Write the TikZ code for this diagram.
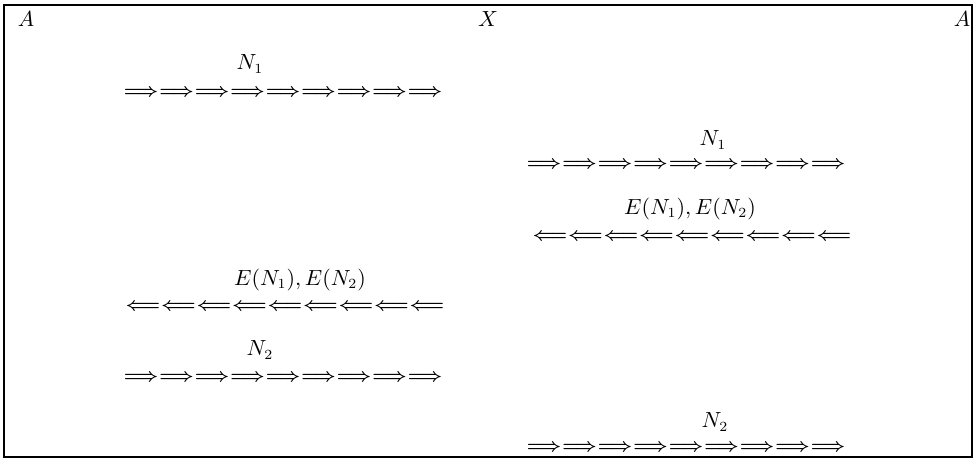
\documentclass[tikz,border=0pt]{standalone}
\newcommand\g{\mskip1mu}
\newcommand\myR{$\Longrightarrow\g\Longrightarrow\g\Longrightarrow\g\Longrightarrow\g\Longrightarrow\g\Longrightarrow\g\Longrightarrow\g\Longrightarrow\g\Longrightarrow$}
\newcommand\myL{$\Longleftarrow\g\Longleftarrow\g\Longleftarrow\g\Longleftarrow\g\Longleftarrow\g\Longleftarrow\g\Longleftarrow\g\Longleftarrow\g\Longleftarrow$}
\begin{document}
\begin{tikzpicture}[x=0.5pt,y=-0.5pt,
  lab/.style={inner sep=0pt,font=\fontsize{10.5}{12}\selectfont},
  arrs/.style={inner sep=0pt,font=\fontsize{9.0}{12}\selectfont\boldmath}]
\useasboundingbox (0,0) rectangle (978,459);
\draw[line width=0.75pt] (4,5) rectangle (972,457);
\node[lab] (A1) at (26,19) {$A$};
\node[lab] (X) at (488,19) {$X$};
\node[lab] (A2) at (962,19) {$A$};
% left column
\node[lab] (n1a) at (250,64) {$N_1$};
\node[arrs] (r1) at (283,93) {\myR};
\node[lab] (e1) at (300,280) {$E(N_1), E(N_2)$};
\node[arrs] (l1) at (285,307) {\myL};
\node[lab] (n2a) at (260,350) {$N_2$};
\node[arrs] (r2) at (283,378) {\myR};
% right column
\node[lab] (n1b) at (713,140) {$N_1$};
\node[arrs] (r3) at (686,165) {\myR};
\node[lab] (e2) at (690,209) {$E(N_1), E(N_2)$};
\node[arrs] (l2) at (692,237) {\myL};
\node[lab] (n2b) at (715,422) {$N_2$};
\node[arrs] (r4) at (686,448) {\myR};
\end{tikzpicture}
\end{document}
